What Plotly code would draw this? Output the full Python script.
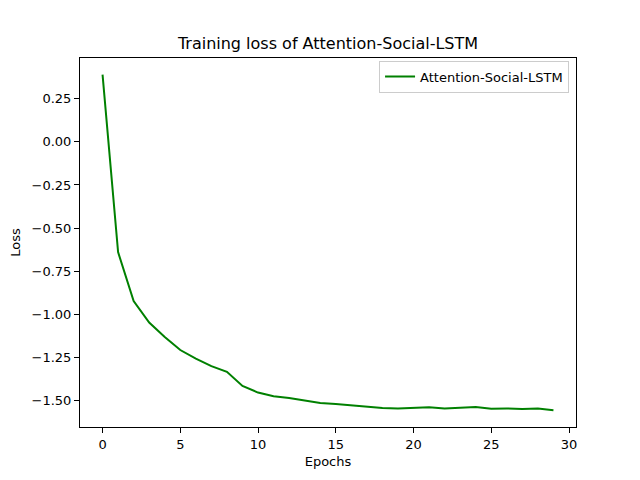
import plotly.graph_objects as go

epochs = list(range(30))
loss = [0.39, -0.64, -0.924, -1.049, -1.132, -1.208, -1.258, -1.302, -1.335, -1.417,
        -1.455, -1.477, -1.487, -1.501, -1.516, -1.522, -1.530, -1.537, -1.545, -1.547,
        -1.545, -1.541, -1.547, -1.543, -1.539, -1.549, -1.547, -1.551, -1.547, -1.558]
yticks = [0.25, 0.0, -0.25, -0.5, -0.75, -1.0, -1.25, -1.5]
xticks = [0, 5, 10, 15, 20, 25, 30]

font = "DejaVu Sans"
fig = go.Figure()
fig.add_trace(go.Scatter(x=epochs, y=loss, mode="lines", name="Attention-Social-LSTM",
                         line=dict(color="green", width=2)))

axis_common = dict(showline=True, linecolor="black", linewidth=1, mirror=True,
                   ticks="outside", ticklen=5, tickwidth=1, tickcolor="black",
                   showgrid=False, zeroline=False, automargin=False,
                   tickfont=dict(family=font, size=13, color="black"))

# page body has an 8px default margin; margins compensate for it
fig.update_layout(
    width=640, height=480,
    margin=dict(l=72, r=72, t=50, b=61),
    paper_bgcolor="white", plot_bgcolor="white",
    font=dict(family=font, size=13, color="black"),
    title=dict(text="Training loss of Attention-Social-LSTM", x=(328 - 8) / 640, xanchor="center",
               y=1 - 35 / 480, yanchor="middle", font=dict(family=font, size=16, color="black")),
    xaxis=dict(range=[-1.45, 30.45], tickvals=xticks,
               title=dict(text="Epochs", font=dict(family=font, size=13), standoff=6),
               **axis_common),
    yaxis=dict(range=[-1.655, 0.487], tickvals=yticks, tickformat=".2f",
               title=dict(text="Loss", font=dict(family=font, size=13), standoff=8),
               **axis_common),
    legend=dict(x=0.986, y=0.993, xanchor="right", yanchor="top",
                bordercolor="#cccccc", borderwidth=1, bgcolor="white",
                font=dict(family=font, size=13, color="black")),
    showlegend=True,
)

fig.write_html("out.html")
